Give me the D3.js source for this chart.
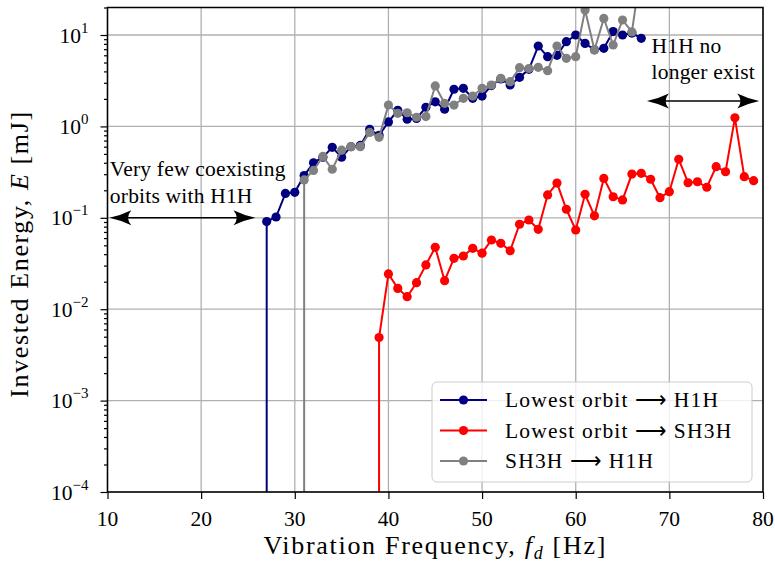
<!DOCTYPE html>
<html><head><meta charset="utf-8">
<script src="https://cdn.jsdelivr.net/npm/d3@7"></script>
<style>
body{margin:0;background:#fff}
text{font-family:"Liberation Serif","Times New Roman",serif;fill:#000}
</style>
</head><body>
<svg id="c" width="775" height="564"></svg>
<script>
// ---------------- data ----------------
const freqBlue = [27,28,29,30,31,32,33,34,35,36,37,38,39,40,41,42,43,44,45,46,47,48,49,50,51,52,53,54,55,56,57,58,59,60,61,62,63,64,65,66,67];
const energyBlue = [0.091,0.102,0.185,0.19,0.29,0.40,0.46,0.59,0.46,0.60,0.62,0.93,0.80,1.12,1.50,1.20,1.22,1.62,1.86,1.54,2.55,2.61,2.03,2.15,2.80,3.30,2.84,3.44,4.21,7.58,5.79,6.00,8.45,10.0,8.10,6.90,7.15,10.9,10.0,10.5,9.2];

const freqRed = [39,40,41,42,43,44,45,46,47,48,49,50,51,52,53,54,55,56,57,58,59,60,61,62,63,64,65,66,67,68,69,70,71,72,73,74,75,76,77,78,79];
const energyRed = [0.0049,0.0243,0.0169,0.0137,0.0195,0.0305,0.0475,0.0205,0.036,0.0382,0.0464,0.041,0.0572,0.0526,0.0436,0.085,0.0946,0.0749,0.178,0.24,0.124,0.0736,0.181,0.105,0.27,0.17,0.157,0.301,0.307,0.264,0.166,0.193,0.436,0.242,0.248,0.216,0.363,0.319,1.24,0.282,0.255];

const freqGray = [31,32,33,34,35,36,37,38,39,40,41,42,43,44,45,46,47,48,49,50,51,52,53,54,55,56,57,58,59,60,61,62,63,64,65,66,67];
const energyGray = [0.26,0.33,0.47,0.34,0.55,0.60,0.60,0.86,0.76,1.71,1.39,1.41,1.26,1.28,2.77,1.79,1.71,2.03,2.15,2.61,2.84,3.36,3.09,4.39,4.30,4.43,4.07,7.58,5.56,5.79,18.8,6.85,15.2,7.78,14.6,10.8,55];

const seriesNames = ["Lowest orbit", "Lowest orbit", "SH3H"];
const seriesTargets = ["H1H", "SH3H", "H1H"];
const seriesColors = ["#000080", "#ff0000", "#808080"];

const xTicks = [10,20,30,40,50,60,70,80];
const yTicks = [1e-4,1e-3,1e-2,1e-1,1,10];
const yTickExp = ["\u22124","\u22123","\u22122","\u22121","0","1"];

// ---------------- layout ----------------
const P = {left:107.5, right:763, top:7.5, bottom:492};
const x = d3.scaleLinear().domain([10,80]).range([P.left,P.right]);
const y = d3.scaleLog().domain([1e-4,20]).range([P.bottom,P.top]);
const svg = d3.select("#c");

svg.append("defs").append("clipPath").attr("id","clip")
  .append("rect").attr("x",P.left).attr("y",P.top)
  .attr("width",P.right-P.left).attr("height",P.bottom-P.top);

// grid
const grid = svg.append("g").attr("stroke","#b0b0b0").attr("stroke-width",1.3);
grid.selectAll("line.gx").data(xTicks).join("line")
  .attr("x1",d=>x(d)).attr("x2",d=>x(d)).attr("y1",P.top).attr("y2",P.bottom);
grid.selectAll("line.gy").data(yTicks).join("line")
  .attr("y1",d=>y(d)).attr("y2",d=>y(d)).attr("x1",P.left).attr("x2",P.right);

// axes ticks
const xAxis = svg.append("g").attr("transform",`translate(0,${P.bottom})`)
  .call(d3.axisBottom(x).tickValues(xTicks).tickSize(7).tickFormat(""));
const yAxis = svg.append("g").attr("transform",`translate(${P.left},0)`)
  .call(d3.axisLeft(y).tickValues(yTicks).tickSize(7).tickFormat(""));
const minors = [];
yTicks.forEach(t=>{ for(let k=2;k<=9;k++){ const v=t*k; if(v<=20) minors.push(v);} });
const yMinor = svg.append("g").attr("transform",`translate(${P.left},0)`)
  .call(d3.axisLeft(y).tickValues(minors).tickSize(3.5).tickFormat(""));
[xAxis,yAxis,yMinor].forEach(g=>{ g.select(".domain").remove(); g.selectAll("line").attr("stroke","#000").attr("stroke-width",1.2); });

// tick labels
svg.append("g").selectAll("text").data(xTicks).join("text")
  .attr("x",d=>x(d)).attr("y",P.bottom+34).attr("text-anchor","middle")
  .attr("font-size",21.5).text(d=>d);
const yl = svg.append("g").selectAll("text").data(yTicks).join("text")
  .attr("x",P.left-19).attr("y",d=>y(d)+7.5).attr("text-anchor","end").attr("font-size",21.5);
yl.append("tspan").text("10");
yl.append("tspan").attr("dy",-10).attr("font-size",15).text((d,i)=>yTickExp[i]);

// series
const plotG = svg.append("g").attr("clip-path","url(#clip)");
const series = [
  {f:freqBlue, e:energyBlue},
  {f:freqRed, e:energyRed},
  {f:freqGray, e:energyGray}
];
const line = d3.line().x(d=>d[0]).y(d=>d[1]);
series.forEach((s,i)=>{
  const pts = s.f.map((f,j)=>[x(f), y(s.e[j])]);
  // line drops to the bottom of the axes from the first point
  const path = [[x(s.f[0]), P.bottom+2], ...pts];
  plotG.append("path").attr("d",line(path)).attr("fill","none")
    .attr("stroke",seriesColors[i]).attr("stroke-width",2);
  plotG.append("g").selectAll("circle").data(pts).join("circle")
    .attr("cx",d=>d[0]).attr("cy",d=>d[1]).attr("r",4.6).attr("fill",seriesColors[i]);
});

// frame
svg.append("rect").attr("x",P.left).attr("y",P.top)
  .attr("width",P.right-P.left).attr("height",P.bottom-P.top)
  .attr("fill","none").attr("stroke","#000").attr("stroke-width",1.5);

// annotations
function head(tx,ty,dir){
  const L=22,W=7.5;
  return `M${tx},${ty} Q${tx-dir*L*0.55},${ty-W*0.35} ${tx-dir*L},${ty-W} Q${tx-dir*L*0.7},${ty} ${tx-dir*L},${ty+W} Q${tx-dir*L*0.55},${ty+W*0.35} ${tx},${ty} Z`;
}
function dblArrow(f1,f2,e){
  const x1=x(f1), x2=x(f2), yy=y(e);
  const g=svg.append("g");
  g.append("line").attr("x1",x1+10).attr("x2",x2-10).attr("y1",yy).attr("y2",yy)
    .attr("stroke","#000").attr("stroke-width",1.5);
  g.append("path").attr("d",head(x1,yy,-1)).attr("fill","#000");
  g.append("path").attr("d",head(x2,yy,1)).attr("fill","#000");
}
dblArrow(10.2,25.8,0.1);
dblArrow(67.6,79.6,1.9);

const ann1 = svg.append("text").attr("x",x(10.25)).attr("y",y(0.29))
  .attr("font-size",21.5).attr("letter-spacing",0.2);
ann1.append("tspan").attr("x",x(10.25)).text("Very few coexisting");
ann1.append("tspan").attr("x",x(10.25)).attr("dy",27).text("orbits with H1H");
const ann2 = svg.append("text").attr("x",x(68.1)).attr("y",y(6.3))
  .attr("font-size",21.5).attr("letter-spacing",0.2);
ann2.append("tspan").attr("x",x(68.1)).text("H1H no");
ann2.append("tspan").attr("x",x(68.1)).attr("dy",26).text("longer exist");

// axis labels
const xl = svg.append("text").attr("x",(P.left+P.right)/2).attr("y",554)
  .attr("text-anchor","middle").attr("font-size",26).attr("letter-spacing",1.7);
xl.append("tspan").text("Vibration Frequency, ");
xl.append("tspan").attr("font-style","italic").text("f");
xl.append("tspan").attr("font-style","italic").attr("font-size",18).attr("dy",5).text("d");
xl.append("tspan").attr("dy",-5).text(" [Hz]");

const ylab = svg.append("text").attr("transform","translate(28,254) rotate(-90)")
  .attr("text-anchor","middle").attr("font-size",26).attr("letter-spacing",1.6);
ylab.append("tspan").text("Invested Energy, ");
ylab.append("tspan").attr("font-style","italic").text("E");
ylab.append("tspan").text(" [mJ]");

// legend
const lg = svg.append("g");
lg.append("rect").attr("x",432).attr("y",382).attr("width",320).attr("height",100)
  .attr("rx",5).attr("fill","#fff").attr("fill-opacity",0.8)
  .attr("stroke","#cccccc").attr("stroke-width",1);
seriesNames.forEach((n,i)=>{
  const yy = 400 + i*30.5;
  lg.append("line").attr("x1",440).attr("x2",487).attr("y1",yy).attr("y2",yy)
    .attr("stroke",seriesColors[i]).attr("stroke-width",2);
  lg.append("circle").attr("cx",463.5).attr("cy",yy).attr("r",4.6).attr("fill",seriesColors[i]);
  const t = lg.append("text").attr("x",505).attr("y",yy+7).attr("font-size",21.5).attr("letter-spacing",1.2);
  t.append("tspan").text(n+"  ");
  t.append("tspan").attr("font-family","DejaVu Sans").attr("font-weight",200).attr("font-size",22).attr("letter-spacing",0).text("\u27F6");
  t.append("tspan").text("  "+seriesTargets[i]);
});
</script>
</body></html>
